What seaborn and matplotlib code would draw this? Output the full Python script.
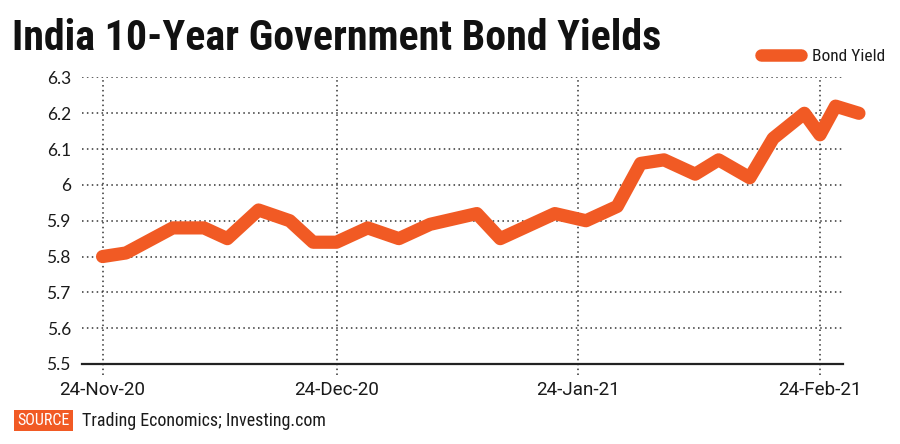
import os
import matplotlib
matplotlib.use("Agg")
import matplotlib.pyplot as plt
import matplotlib.dates as mdates
import matplotlib.font_manager as fm
from matplotlib.ticker import FuncFormatter
import pandas as pd
import seaborn as sns

# ---- data ----
dates = ["2020-11-24", "2020-11-27", "2020-12-03", "2020-12-07", "2020-12-10",
         "2020-12-14", "2020-12-18", "2020-12-21", "2020-12-24", "2020-12-28",
         "2021-01-01", "2021-01-05", "2021-01-11", "2021-01-14", "2021-01-21",
         "2021-01-25", "2021-01-29", "2021-02-01", "2021-02-04", "2021-02-08",
         "2021-02-11", "2021-02-15", "2021-02-18", "2021-02-22", "2021-02-24",
         "2021-02-26", "2021-03-01"]
yields = [5.80, 5.81, 5.88, 5.88, 5.85, 5.93, 5.90, 5.84, 5.84, 5.88,
          5.85, 5.89, 5.92, 5.85, 5.92, 5.90, 5.94, 6.06, 6.07, 6.03,
          6.07, 6.02, 6.13, 6.20, 6.14, 6.22, 6.20]
tick_dates = ["2020-11-24", "2020-12-24", "2021-01-24", "2021-02-24"]
y_ticks = [5.5, 5.6, 5.7, 5.8, 5.9, 6.0, 6.1, 6.2, 6.3]
series_name = "Bond Yield"
title_text = "India 10-Year Government Bond Yields"
source_label = "SOURCE"
source_text = "Trading Economics; Investing.com"

ORANGE = "#F15A24"
GRID = "#333333"
TEXT = "#1a1a1a"


def find_font(patterns):
    files = [f.fname for f in fm.fontManager.ttflist]
    for pat in patterns:
        for fn in files:
            if os.path.basename(fn).lower().replace(" ", "") == pat.lower():
                return fn
    for pat in patterns:
        stem = pat.lower().rsplit(".", 1)[0]
        for fn in files:
            if stem in os.path.basename(fn).lower():
                return fn
    return None


bold_c = find_font(["RobotoCondensed-Bold.ttf", "LiberationSansNarrow-Bold.ttf",
                    "DejaVuSansCondensed-Bold.ttf", "OpenSans_Condensed-Bold.ttf"])
reg_c = find_font(["RobotoCondensed-Regular.ttf", "LiberationSansNarrow-Regular.ttf",
                   "DejaVuSansCondensed.ttf", "OpenSans_Condensed-Regular.ttf"])


def fp(fname, size, **kw):
    if fname:
        return fm.FontProperties(fname=fname, size=size)
    return fm.FontProperties(family="DejaVu Sans", size=size, **kw)


df = pd.DataFrame({"date": pd.to_datetime(dates), "value": yields})

sns.set_theme(style="white")
plt.rcParams["font.family"] = ["DejaVu Sans"]

fig = plt.figure(figsize=(9, 4.44), dpi=100)
ax = fig.add_axes([0.0911, 0.1802, 0.8456, 0.6453])

sns.lineplot(data=df, x="date", y="value", ax=ax, color=ORANGE, linewidth=9.5,
             label=series_name, solid_capstyle="round", solid_joinstyle="round",
             clip_on=False, zorder=5)

t0 = pd.Timestamp(tick_dates[0])
ax.set_xlim(t0 - pd.Timedelta(days=2.64), t0 + pd.Timedelta(days=94.96))
ax.set_ylim(y_ticks[0], y_ticks[-1])
ax.set_yticks(y_ticks)
ax.yaxis.set_major_formatter(FuncFormatter(lambda v, p: f"{v:g}"))
ax.set_xticks(pd.to_datetime(tick_dates))
ax.xaxis.set_major_formatter(mdates.DateFormatter("%d-%b-%y"))
ax.set_xlabel("")
ax.set_ylabel("")

for s in ["top", "right", "left"]:
    ax.spines[s].set_visible(False)
ax.spines["bottom"].set_color("#222222")
ax.spines["bottom"].set_linewidth(1.6)
ax.spines["bottom"].set_zorder(4)

ax.tick_params(axis="both", length=0)
ax.tick_params(axis="y", pad=8, labelcolor=TEXT)
ax.tick_params(axis="x", pad=12, labelcolor=TEXT)
for lab in ax.get_yticklabels():
    lab.set_fontproperties(fm.FontProperties(family=["Lato", "DejaVu Sans"], size=12.5))
for lab in ax.get_xticklabels():
    lab.set_fontproperties(fm.FontProperties(family=["Roboto", "DejaVu Sans"], size=13.5))

# dotted grid
for yv in y_ticks[1:]:
    ax.axhline(yv, color=GRID, lw=1.1, ls=(0, (1, 2.2)), zorder=1)
for d in pd.to_datetime(tick_dates):
    ax.axvline(d, ymin=-0.04, ymax=1.0, color=GRID, lw=1.1, ls=(0, (1, 2.2)),
               clip_on=False, zorder=1)

# legend
leg = ax.legend(loc="center right", bbox_to_anchor=(0.991, 0.872),
                bbox_transform=fig.transFigure, frameon=False,
                prop=fp(reg_c, 12.5), handlelength=2.3, handletextpad=0.6,
                borderaxespad=0)
for line in leg.get_lines():
    line.set_linewidth(9)
    line.set_solid_capstyle("round")
for t in leg.get_texts():
    t.set_color(TEXT)

# title, scaled to span the reference width
title = fig.text(12 / 900, 1 - 50 / 444, title_text, fontproperties=fp(bold_c, 30, weight="bold"),
                 color="#111111", ha="left", va="baseline")
fig.canvas.draw()
w = title.get_window_extent().width
title.set_fontsize(30 * 648 / w)

# source
src_lab = fig.text(17 / 900, 1 - 425 / 444, source_label, fontproperties=fp(reg_c, 11.5),
                   color="white", ha="left", va="baseline",
                   bbox=dict(boxstyle="square,pad=0.2", fc=ORANGE, ec="none"))
src = fig.text(82 / 900, 1 - 426 / 444, source_text, fontproperties=fp(reg_c, 13),
               color=TEXT, ha="left", va="baseline")

fig.savefig("out.png", dpi=100)
